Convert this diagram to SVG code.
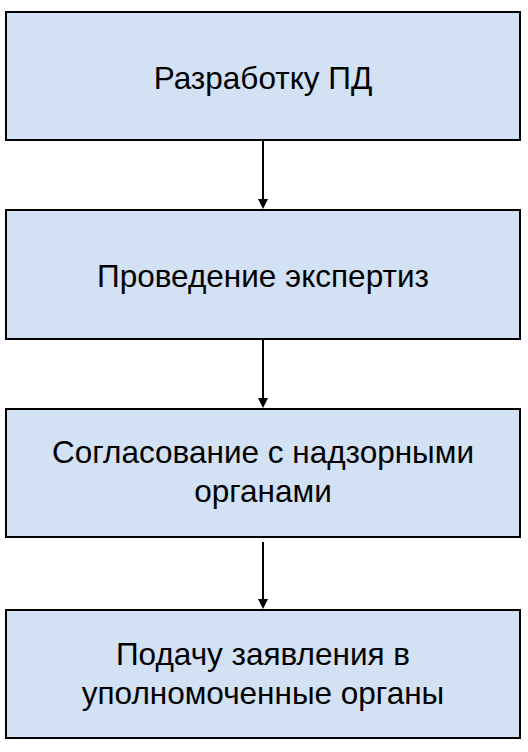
<svg xmlns="http://www.w3.org/2000/svg" width="528" height="752" viewBox="0 0 528 752">
<style>
.box{fill:#d2e1f3;stroke:#000;stroke-width:2}
.lbl{font-family:"Liberation Sans",Arial,sans-serif;font-size:31.5px;fill:#000;text-anchor:middle}
.conn{stroke:#000;stroke-width:2;fill:none}
</style>
<rect width="528" height="752" fill="#fff"/>
<g id="n1"><rect class="box" x="6" y="12" width="514" height="128"/><text class="lbl" x="263" y="89">Разработку ПД</text></g>
<g id="n2"><rect class="box" x="6" y="210" width="514" height="129"/><text class="lbl" x="263" y="287">Проведение экспертиз</text></g>
<g id="n3"><rect class="box" x="6" y="409" width="514" height="128"/><text class="lbl" x="263" y="463">Согласование с надзорными</text><text class="lbl" x="263" y="502">органами</text></g>
<g id="n4"><rect class="box" x="6" y="610" width="514" height="128"/><text class="lbl" x="263" y="665">Подачу заявления в</text><text class="lbl" x="263" y="704">уполномоченные органы</text></g>
<g id="connectors">
<path class="conn" d="M263,141 L263,200"/><path d="M258,199 L268,199 L263,209 Z"/>
<path class="conn" d="M263,340 L263,399"/><path d="M258,398 L268,398 L263,408 Z"/>
<path class="conn" d="M263,542 L263,600"/><path d="M258,599 L268,599 L263,609 Z"/>
</g>
</svg>
